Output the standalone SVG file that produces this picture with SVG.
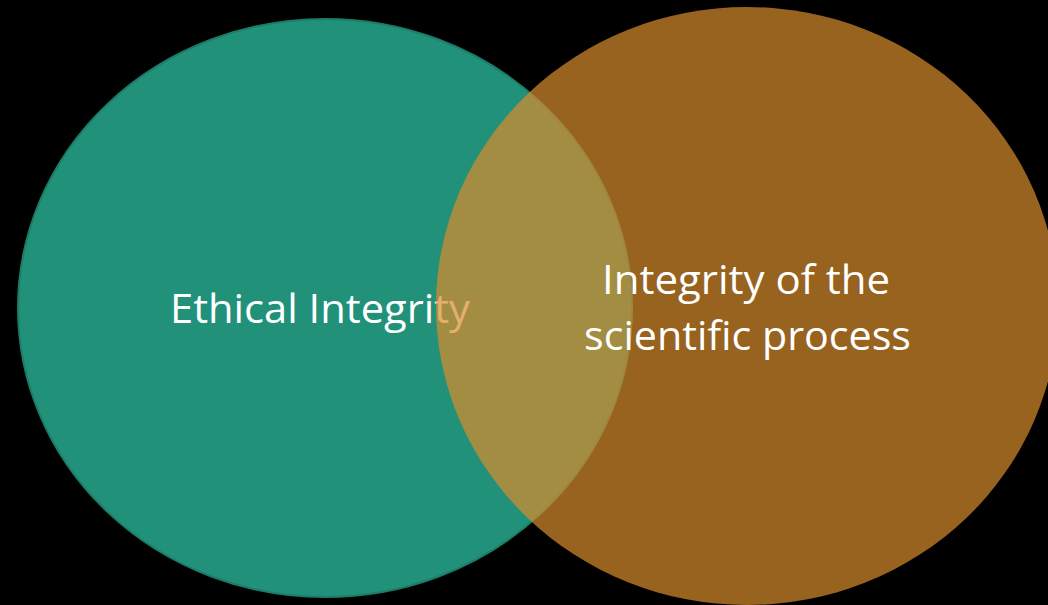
<svg xmlns="http://www.w3.org/2000/svg" width="1048" height="605" viewBox="0 0 1048 605">
  <style>
    .lbl { font-family: "Open Sans", "Liberation Sans", sans-serif; font-size: 40px; fill: #FFFFFF; }
  </style>
  <rect x="0" y="0" width="1048" height="605" fill="#000000"/>
  <g id="node-ethical">
    <ellipse cx="325" cy="308" rx="307" ry="289" fill="#22917A" stroke="#1C7C67" stroke-width="2"/>
    <text class="lbl" x="170" y="323" textLength="300" lengthAdjust="spacingAndGlyphs">Ethical Integrity</text>
  </g>
  <g id="node-scientific">
    <ellipse cx="747" cy="306" rx="311" ry="299" fill="#D98C2C" fill-opacity="0.7"/>
    <text class="lbl" x="602" y="294" textLength="288" lengthAdjust="spacingAndGlyphs">Integrity of the</text>
    <text class="lbl" x="584" y="350" textLength="327" lengthAdjust="spacingAndGlyphs">scientific process</text>
  </g>
  <g id="connectors"/>
</svg>
